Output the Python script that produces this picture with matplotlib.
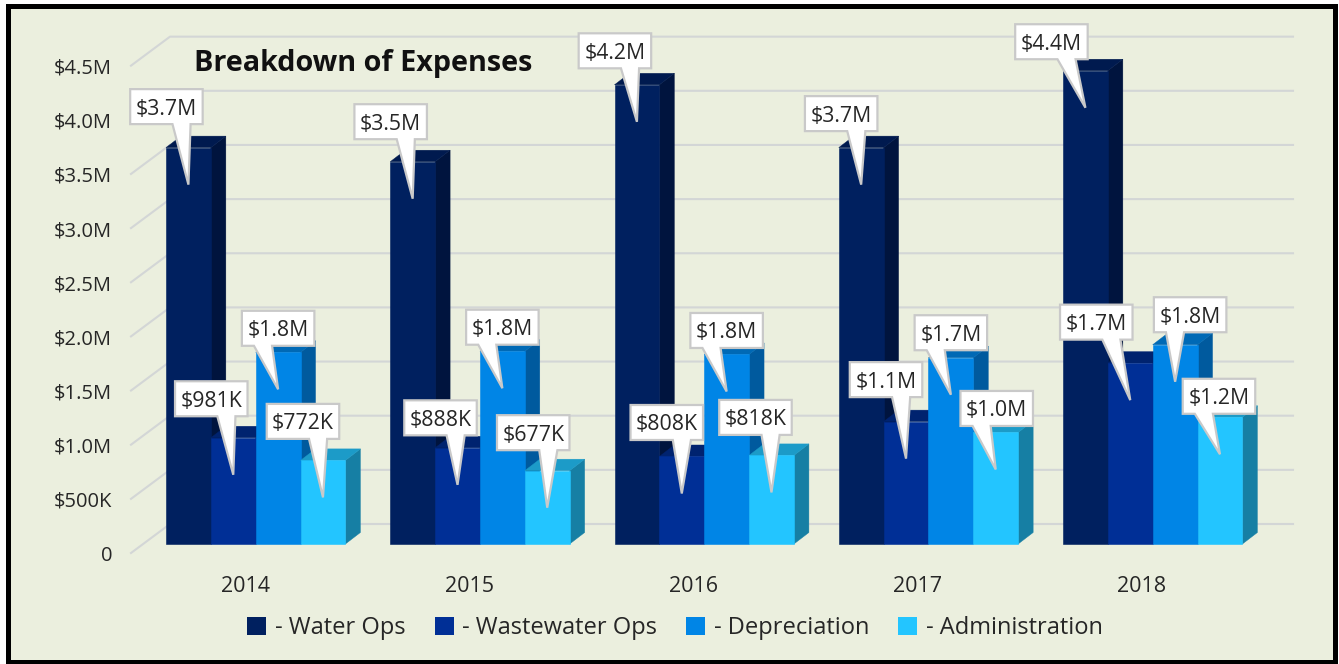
import matplotlib
matplotlib.use('Agg')
import matplotlib.pyplot as plt
from matplotlib.patches import Polygon, Patch, Rectangle

plt.rcParams['font.family'] = ['Open Sans', 'DejaVu Sans']

W, H = 1339, 664
PX_X = 224.25     # pixels per year group
PX_Y = 108.3      # pixels per $1M
X0, Y0 = 166, 544 # pixel of first bar / front baseline

years = [2014, 2015, 2016, 2017, 2018]
series = ['Water Ops', 'Wastewater Ops', 'Depreciation', 'Administration']
water = [3.66, 3.53, 4.24, 3.66, 4.37]
wastewater = [0.981, 0.888, 0.808, 1.13, 1.67]
depreciation = [1.77, 1.78, 1.75, 1.72, 1.84]
administration = [0.772, 0.677, 0.818, 1.03, 1.17]
values = [water, wastewater, depreciation, administration]

labels = [['$3.7M', '$3.5M', '$4.2M', '$3.7M', '$4.4M'],
          ['$981K', '$888K', '$808K', '$1.1M', '$1.7M'],
          ['$1.8M', '$1.8M', '$1.8M', '$1.7M', '$1.8M'],
          ['$772K', '$677K', '$818K', '$1.0M', '$1.2M']]

# callout box centre relative to its tip, in pixels
box_dx = [[-22, -22, -22, -20, -34],
          [-22, -17, -15, -20, -34],
          [0, 0, 0, 0, 15],
          [-20, -14, -16, 1, -1]]
box_dy = [[-78, -77, -71, -71, -66],
          [-76, -67, -71, -79, -78],
          [-61, -61, -61, -62, -67],
          [-76, -75, -75, -61, -58]]

front = ['#00205F', '#002F96', '#0085E6', '#23C5FF']
side = ['#00143E', '#001F63', '#005A9E', '#167FA4']
top = ['#001A4F', '#00236F', '#0069B5', '#1C9BC8']

ticks = [0, 0.5, 1, 1.5, 2, 2.5, 3, 3.5, 4, 4.5]
tick_labels = ['0', '$500K', '$1.0M', '$1.5M', '$2.0M', '$2.5M', '$3.0M', '$3.5M', '$4.0M', '$4.5M']

BG = '#EBEFDE'
GRID = '#D3D6D6'
TEXT = '#262626'
BAR_W = 0.2
DX = 15 / PX_X
DY = 11.5 / PX_Y

fig = plt.figure(figsize=(W / 100, H / 100), dpi=100, facecolor='white')
ax = fig.add_axes([0, 0, 1, 1])
ax.set_xlim(-X0 / PX_X, (W - X0) / PX_X)
ax.set_ylim((Y0 - H) / PX_Y, Y0 / PX_Y)
ax.axis('off')


def px(x, y):
    return (x - X0) / PX_X, (Y0 - y) / PX_Y


# frame
x1, y1 = px(7.5, 662)
x2, y2 = px(1335, 5.5)
ax.add_patch(Rectangle((x1, y1), x2 - x1, y2 - y1, fc=BG, ec='black', lw=3.6, zorder=0))

# gridlines: side wall and back wall
for t, lab in zip(ticks, tick_labels):
    xa, ya = px(131, Y0 + 9)
    xb, yb = px(170, Y0 - 20)
    xc, _ = px(1293, 0)
    ax.plot([xa, xb, xc], [t + ya, t + yb, t + yb], color=GRID, lw=1.5, zorder=1)
    xt, _ = px(112, 0)
    ax.text(xt, t + ya - 3 / PX_Y, lab, ha='right', va='center', fontsize=14.5, color=TEXT)

# bars
for i, year in enumerate(years):
    for j in range(len(series)):
        v = values[j][i]
        x = i + j * BAR_W
        z = 2 + i + j * 0.1
        ax.add_patch(Polygon([(x + BAR_W, 0), (x + BAR_W + DX, DY), (x + BAR_W + DX, v + DY), (x + BAR_W, v)],
                             fc=side[j], ec=side[j], lw=0.3, zorder=z))
        ax.add_patch(Polygon([(x, v), (x + DX, v + DY), (x + BAR_W + DX, v + DY), (x + BAR_W, v)],
                             fc=top[j], ec=top[j], lw=0.3, zorder=z))
        ax.bar(x, v, BAR_W, align='edge', color=front[j], ec=front[j], lw=0.4, zorder=z + 0.01)
    xt = i + 79 / PX_X
    ax.text(xt, px(0, 587)[1], str(year), ha='center', va='center', fontsize=15.5, color=TEXT)

# callouts
bw = 72.5 / PX_X
bh = 35 / PX_Y
for i in range(len(years)):
    for j in range(len(series)):
        v = values[j][i]
        tx = i + (j + 0.5) * BAR_W
        ty = v - 37 / PX_Y
        cx = tx + box_dx[j][i] / PX_X
        cy = ty - box_dy[j][i] / PX_Y
        l, r = cx - bw / 2, cx + bw / 2
        b, t = cy - bh / 2, cy + bh / 2
        if box_dx[j][i] < -5:
            w1, w2 = l + bw * 7 / 12, l + bw * 10 / 12
        else:
            w1, w2 = l + bw * 2 / 12, l + bw * 5 / 12
        z = 10 + i + j * 0.1
        ax.add_patch(Polygon([(l, b), (l, t), (r, t), (r, b), (w2, b), (tx, ty), (w1, b)],
                             fc='white', ec='#C9C9C9', lw=1.6, joinstyle='miter', zorder=z))
        ax.text(cx, cy - 2.5 / PX_Y, labels[j][i], ha='center', va='center', fontsize=15.3, color=TEXT, zorder=z + 0.01)

tx, ty = px(194, 64)
ax.text(tx, ty, 'Breakdown of Expenses', ha='left', va='center', fontsize=20.7,
        fontweight='bold', color='#111111', zorder=30)

handles = [Patch(fc=c, ec='none', label='- ' + s) for c, s in zip(front, series)]
lx, ly = px(675, 628)
leg = ax.legend(handles=handles, loc='center', bbox_to_anchor=(lx, ly), bbox_transform=ax.transData,
                ncol=4, frameon=False, fontsize=17, handlelength=0.8, handleheight=0.8,
                handletextpad=0.35, columnspacing=1.25, labelcolor=TEXT)

fig.savefig('out.png', dpi=100, facecolor='white')
